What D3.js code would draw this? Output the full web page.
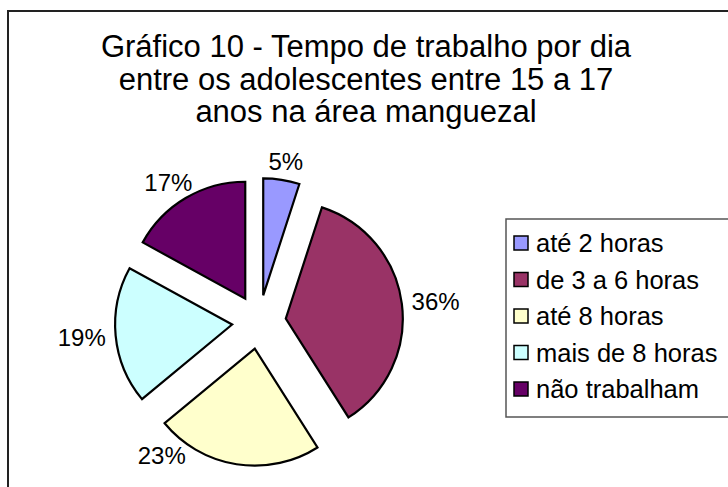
<!DOCTYPE html>
<html>
<head>
<meta charset="utf-8">
<script src="https://cdn.jsdelivr.net/npm/d3@7"></script>
<style>
  body { margin: 0; background: #fff; }
  text { font-family: "Liberation Sans", Arial, sans-serif; }
</style>
</head>
<body>
<div id="chart"></div>
<script>
// Chart data
const categories = ["até 2 horas", "de 3 a 6 horas", "até 8 horas", "mais de 8 horas", "não trabalham"];
const values = [5, 36, 23, 19, 17];
const sliceColors = ["#9999FF", "#993366", "#FFFFCC", "#CCFFFF", "#660066"];
const titleLines = [
    "Gráfico 10 - Tempo de trabalho por dia",
    "entre os adolescentes entre 15 a 17",
    "anos na área manguezal"
];

const width = 728;
const height = 487;

const svg = d3.select("#chart")
    .append("svg")
    .attr("width", width)
    .attr("height", height);

// Chart border (runs past right and bottom edges)
svg.append("rect")
    .attr("x", 8)
    .attr("y", 11)
    .attr("width", 760)
    .attr("height", 520)
    .attr("fill", "none")
    .attr("stroke", "#222")
    .attr("stroke-width", 2);

// Title
svg.selectAll(".title")
    .data(titleLines)
    .join("text")
    .attr("class", "title")
    .attr("x", 366)
    .attr("y", (d, i) => 57 + i * 32.5)
    .attr("text-anchor", "middle")
    .attr("font-size", "31px")
    .attr("fill", "#000")
    .text(d => d);

// Pie
const cx = 259, cy = 322;
const radius = 117;
const explode = 27;
const total = d3.sum(values);
const fmt = d3.format(".0%");

const pie = d3.pie().sort(null).value(d => d)(values);
const arc = d3.arc().innerRadius(0).outerRadius(radius);

const slices = svg.append("g")
    .attr("transform", `translate(${cx}, ${cy})`);

slices.selectAll("path")
    .data(pie)
    .join("path")
    .attr("transform", d => {
        const a = (d.startAngle + d.endAngle) / 2;
        return `translate(${explode * Math.sin(a)}, ${-explode * Math.cos(a)})`;
    })
    .attr("d", arc)
    .attr("fill", (d, i) => sliceColors[i])
    .attr("stroke", "#000")
    .attr("stroke-width", 2.2)
    .attr("stroke-linejoin", "miter");

// Data labels, placed just outside each exploded slice
const labelFont = 24;
const capH = 17;
const maxBottom = 464;
pie.forEach((d, i) => {
    let a = (d.startAngle + d.endAngle) / 2;
    const ox = cx + explode * Math.sin(a);
    const oy = cy - explode * Math.cos(a);
    const t = svg.append("text")
        .attr("font-size", labelFont + "px")
        .attr("fill", "#000")
        .text(fmt(values[i] / total));
    const w = t.node().getComputedTextLength();
    const R = radius + 8;
    let bx, by;
    for (let k = 0; k < 90; k++) {
        const px = ox + R * Math.sin(a);
        const py = oy - R * Math.cos(a);
        bx = px + (w / 2 + 2) * Math.sin(a);
        by = py - (capH / 2 + 2) * Math.cos(a);
        if (by + capH / 2 <= maxBottom) break;
        a += (Math.sin(a) < 0 ? 1 : -1) * Math.PI / 180;
    }
    t.attr("x", bx - w / 2).attr("y", by + capH / 2);
});

// Legend
const legend = svg.append("g");
legend.append("rect")
    .attr("x", 506)
    .attr("y", 219)
    .attr("width", 260)
    .attr("height", 198)
    .attr("fill", "#fff")
    .attr("stroke", "#555")
    .attr("stroke-width", 1.5);

const rowY = d3.scalePoint()
    .domain(categories)
    .range([243, 389]);

const items = legend.selectAll(".item")
    .data(categories)
    .join("g")
    .attr("class", "item")
    .attr("transform", d => `translate(0, ${rowY(d)})`);

items.append("rect")
    .attr("x", 514)
    .attr("y", -7)
    .attr("width", 14)
    .attr("height", 14)
    .attr("fill", (d, i) => sliceColors[i])
    .attr("stroke", "#000")
    .attr("stroke-width", 1.5);

items.append("text")
    .attr("x", 536)
    .attr("y", 9)
    .attr("font-size", "25.5px")
    .attr("fill", "#000")
    .text(d => d);
</script>
</body>
</html>
